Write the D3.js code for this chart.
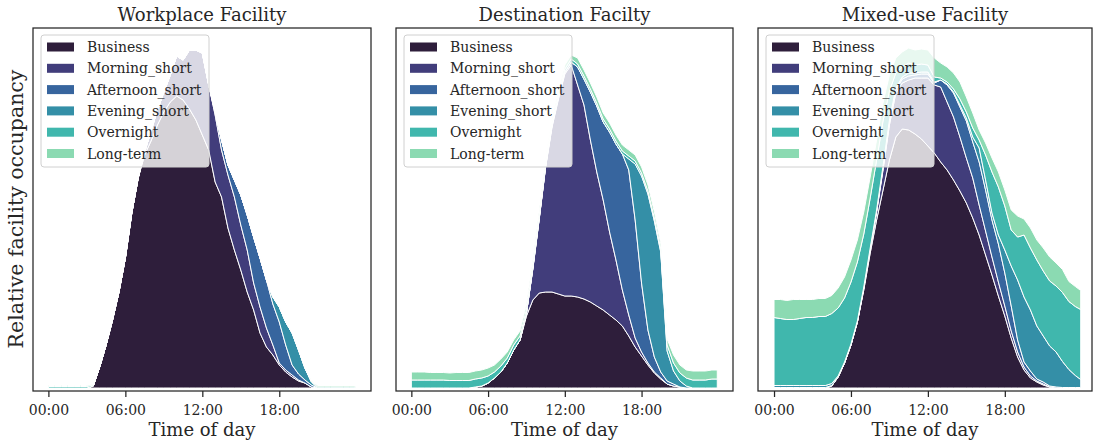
<!DOCTYPE html>
<html>
<head>
<meta charset="utf-8">
<script src="https://cdnjs.cloudflare.com/ajax/libs/d3/7.8.5/d3.min.js"></script>
<style>
  body { margin: 0; background: #fff; }
  text { font-family: "DejaVu Serif", serif; fill: #262626; }
</style>
</head>
<body>
<svg id="chart" width="1093" height="443"></svg>
<script>
// time of day (hours) for every sample
var hours = [0,0.5,1,1.5,2,2.5,3,3.5,4,4.5,5,5.5,6,6.5,7,7.5,8,8.5,9,9.5,10,10.5,11,11.5,
             12,12.5,13,13.5,14,14.5,15,15.5,16,16.5,17,17.5,18,18.5,19,19.5,20,20.5,21,21.5,22,22.5,23,23.5,23.92];

var categories = ["Business", "Morning_short", "Afternoon_short", "Evening_short", "Overnight", "Long-term"];
var colors = ["#2e1e3b", "#413d7b", "#37659e", "#348fa7", "#40b7ad", "#8bdab2"];
var titles = ["Workplace Facility", "Destination Facilty", "Mixed-use Facility"];
var tickHours = [0, 6, 12, 18];
var tickLabels = ["00:00", "06:00", "12:00", "18:00"];

// Workplace facility (relative occupancy, arbitrary units)
var workBusiness = [0,0,0,0,0,0,0,2, 21,43,68,96,130,175,210,233, 247,263,276,286,292,288,279,268,
                    253,238,206,191,160,138,118,96, 78,55,41,33,23,16,11,7, 5,1,0,0,0,0,0,0, 0];
var workMorning = [0,0,0,0,0,0,0,0, 0,0,0,0,0,0,0,3, 10,15,20,27,40,40,59,70,
                   82,65,67,47,53,53,45,42, 27,26,19,10,2,2,2,1, 0,0,0,0,0,0,0,0, 0];
var workAfternoon = [0,0,0,0,0,0,0,0, 0,0,0,0,0,0,0,0, 0,0,0,0,0,0,0,0,
                     0,0,3,10,10,17,30,35, 46,49,48,41,41,25,10,6, 3,2,0,0,0,0,0,0, 0];
var workEvening = [0,0,0,0,0,0,0,0, 0,0,0,0,0,0,0,0, 0,0,0,0,0,0,0,0,
                   0,0,0,0,0,0,0,0, 0,0,0,7,15,23,32,24, 12,3,0,0,0,0,0,0, 0];
var workOvernight = [1.5,1.5,1.5,1.5,1.5,1.5,1.5,1, 0,0,0,0,0,0,0,0, 0,0,0,0,0,0,0,0,
                     0,0,0,0,0,0,0,0, 0,0,0,0,0,0,0,0, 0,0.5,1,1,1,1,1,1, 1];
var workLongterm = [1,1,1,1,1,1,1,0.5, 0,0,0,0,0,0,0,0, 0,0,0,0,0,0,0,0,
                    0,0,0,0,0,0,0,0, 0,0,0,0,0,0,0,0, 0,0.5,1,1,1,1,1,1, 1];

// Destination facility
var destBusiness = [0,0,0,0,0,0,0,0, 0,0,1,2,5,10,16,25, 38,48,72,88,95,96,96,94,
                    92,92,91,89,86,82,78,73, 68,62,52,41,32,23,15,9, 4,2,1,0,0,0,0,0, 0];
var destMorning = [0,0,0,0,0,0,0,0, 0,0,0,0,0,0,0,0, 0,0,3,31,74,125,165,195,
                   222,231,212,194,162,134,110,83, 60,36,21,9,4,2,1,1, 0,0,0,0,0,0,0,0, 0];
var destAfternoon = [0,0,0,0,0,0,0,0, 0,0,0,0,0,0,0,0, 0,0,0,1,1,1,2,2,
                     2,3,18,26,48,66,78,100, 116,136,145,118,69,33,15,6, 3,2,0,0,0,0,0,0, 0];
var destEvening = [0,0,0,0,0,0,0,0, 0,0,0,0,0,0,0,0, 0,0,0,0,0,0,0,0,
                   0,0,0,0,0,0,0,0, 0,0,11,56,107,136,136,120, 30,13,6,2,0,0,0,0, 0];
var destOvernight = [8,8,8,8,8,8,7.5,7.5, 7.5,7.5,8,8,7,6,6,5, 5,4,4,3,3,3,3,3,
                     3,3,3,3,3,3,3,3, 3,3,3,3,3,3,3,3, 6,8,8,8,8,8,8,9, 9];
var destLongterm = [8,8,8,7.5,7.5,7.5,7.5,8, 8,8,8,8,8,7,7,6, 5,5,4,4,4,4,4,4,
                    4,4,6,6,6,6,6,6, 6,6,6,6,6,6,6,5, 6,8,8,8,9,9,9,9, 9];

// Mixed-use facility
var mixBusiness = [0,0,0,0,0,0,0,0, 0,2,11,25,43,66,98,135, 168,198,228,251,259,258,254,249,
                   242,235,226,218,208,197,185,170, 153,133,113,92,72,50,31,18, 10,6,3,1,0,0,0,0, 0];
var mixMorning = [0,0,0,0,0,0,0,0, 0,0,0,0,0,0,2,4, 8,20,35,44,46,50,56,61,
                  68,68,75,68,63,54,45,40, 30,24,18,14,10,7,5,3, 2,1,1,0,0,0,0,0, 0];
var mixAfternoon = [0.5,0.5,0.5,0.5,0.5,0.5,0.5,0.5, 0.5,0.5,0,0,0,0,0,0, 1,2,3,3,4,4,3,4,
                    4,2,7,17,24,30,37,36, 43,41,37,38,33,25,12,5, 5,2,2,1,1,0.5,0.5,0.5, 0.5];
var mixEvening = [2,2,2,2,2,2,2,2, 2,2,1,1,1,1,1,1, 1,2,2,2,2,3,2,2,
                  2,1,0,1,1,2,3,5, 14,10,7,9,23,40,60,65, 61,53,46,40,35,26,18,12, 8];
var mixOvernight = [68,67,66,66,67,68,68,69, 69,70,68,64,62,59,53,50, 50,45,29,15,10,10,8,8,
                    7,5,2,2,3,6,6,9, 8,25,41,48,44,36,43,62, 62,66,65,65,66,69,68,69, 70];
var mixLongterm = [18,19,19,20,19,18,18,18, 18,18,20,21,22,22,22,21, 20,18,16,15,15,15,15,15,
                   15,19,15,15,16,17,15,15, 10,12,14,15,16,20,21,16, 20,20,23,24,23,23,20,20, 19];

var panelSeries = [
  [workBusiness, workMorning, workAfternoon, workEvening, workOvernight, workLongterm],
  [destBusiness, destMorning, destAfternoon, destEvening, destOvernight, destLongterm],
  [mixBusiness, mixMorning, mixAfternoon, mixEvening, mixOvernight, mixLongterm]
];

// axes boxes
var boxes = [
  {left: 33, right: 371, xdom: [-1.2, 25.15]},
  {left: 396, right: 733, xdom: [-1.2, 25.15]},
  {left: 758, right: 1092, xdom: [-1.25, 24.8]}
];
var plotTop = 28, plotBottom = 391;

var svg = d3.select("#chart");

var y = d3.scaleLinear().domain([-3, 360]).range([plotBottom, plotTop]);

boxes.forEach(function(b, p) {
  var x = d3.scaleLinear().domain(b.xdom).range([b.left, b.right]);
  var g = svg.append("g");

  // rows for the stack
  var rows = hours.map(function(h, i) {
    var row = {hour: h};
    categories.forEach(function(c, k) { row[c] = panelSeries[p][k][i]; });
    return row;
  });
  var stacked = d3.stack().keys(categories)(rows);

  var area = d3.area()
    .x(function(d) { return x(d.data.hour); })
    .y0(function(d) { return y(d[0]); })
    .y1(function(d) { return y(d[1]); });

  g.selectAll("path.layer").data(stacked).enter().append("path")
    .attr("class", "layer")
    .attr("d", area)
    .attr("fill", function(d, i) { return colors[i]; })
    .attr("stroke", "#ffffff")
    .attr("stroke-width", 1)
    .attr("stroke-linejoin", "round");

  // frame
  g.append("rect")
    .attr("x", b.left).attr("y", plotTop)
    .attr("width", b.right - b.left).attr("height", plotBottom - plotTop)
    .attr("fill", "none").attr("stroke", "#262626").attr("stroke-width", 1.25);

  // x axis
  var xAxis = d3.axisBottom(x).tickValues(tickHours)
    .tickFormat(function(d, i) { return tickLabels[i]; })
    .tickSize(6).tickPadding(8);
  var ax = g.append("g").attr("transform", "translate(0," + plotBottom + ")").call(xAxis);
  ax.select(".domain").remove();
  ax.selectAll(".tick line").attr("stroke", "#262626").attr("stroke-width", 1.25);
  ax.selectAll(".tick text").attr("font-family", "DejaVu Serif, serif")
    .attr("font-size", 14).attr("fill", "#262626");

  g.append("text").attr("x", (b.left + b.right) / 2).attr("y", 436)
    .attr("text-anchor", "middle").attr("font-size", 18).text("Time of day");

  g.append("text").attr("x", (b.left + b.right) / 2).attr("y", 21)
    .attr("text-anchor", "middle").attr("font-size", 18).text(titles[p]);

  // legend
  var lg = g.append("g").attr("transform", "translate(" + (b.left + 8) + ",35)");
  lg.append("rect").attr("width", 168).attr("height", 132).attr("rx", 3)
    .attr("fill", "#ffffff").attr("fill-opacity", 0.8)
    .attr("stroke", "#d0d0d0").attr("stroke-width", 1);
  categories.forEach(function(c, i) {
    var cy = 12 + i * 21.3;
    lg.append("rect").attr("x", 6).attr("y", cy - 4.5).attr("width", 27).attr("height", 9)
      .attr("fill", colors[i]);
    lg.append("text").attr("x", 46).attr("y", cy + 5).attr("font-size", 14).text(c);
  });
});

svg.append("text")
  .attr("transform", "translate(23,209) rotate(-90)")
  .attr("text-anchor", "middle").attr("font-size", 20.5)
  .text("Relative facility occupancy");
</script>
</body>
</html>
